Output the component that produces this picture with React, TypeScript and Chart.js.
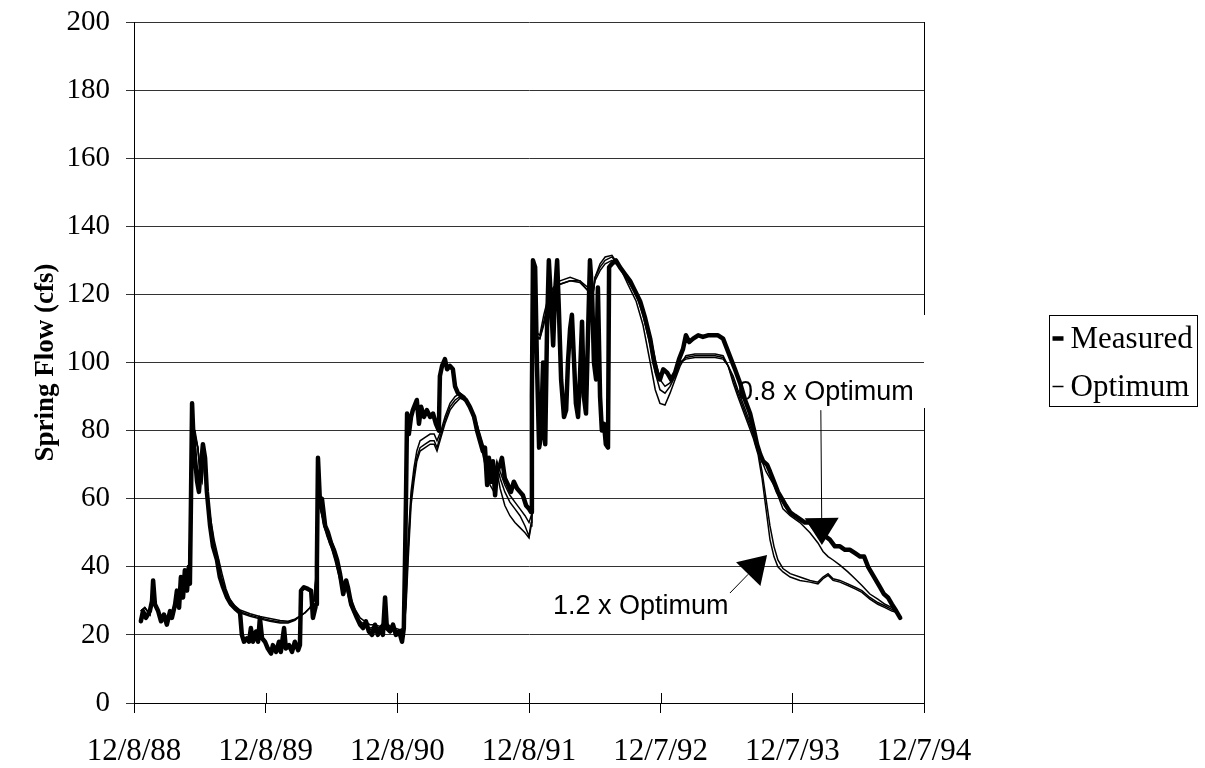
import { useEffect, useRef } from "react";
import { Chart, registerables } from "chart.js";

Chart.register(...registerables);

// Axis ticks: one per year, counted in days from 12/8/88
const tickDays = [0, 365, 730, 1095, 1460, 1825, 2190];
const tickLabels = ["12/8/88", "12/8/89", "12/8/90", "12/8/91", "12/7/92", "12/7/93", "12/7/94"];

// Measured spring flow (days since 12/8/88, cfs)
const measuredDays = [
  19, 25, 33, 44, 50, 53, 58, 67, 75, 83, 91, 100, 105, 114, 119, 125, 130, 136, 141, 147,
  152, 155, 158, 161, 164, 169, 175, 180, 186, 191, 197, 202, 211, 219, 230, 238, 247, 258, 269, 283,
  294, 299, 305, 313, 319, 324, 330, 338, 344, 349, 355, 363, 371, 380, 385, 394, 402, 407, 416, 421,
  430, 438, 446, 455, 460, 463, 471, 482, 491, 496, 505, 507, 510, 516, 521, 530, 538, 546, 554, 563,
  571, 580, 588, 593, 602, 610, 618, 627, 635, 643, 651, 660, 668, 676, 685, 690, 696, 701, 710, 718,
  726, 735, 743, 748, 751, 754, 757, 762, 768, 773, 784, 790, 796, 804, 812, 821, 829, 837, 845, 848,
  854, 862, 868, 876, 884, 890, 898, 909, 920, 931, 943, 951, 959, 967, 973, 979, 984, 990, 995, 1001,
  1006, 1015, 1020, 1028, 1037, 1045, 1053, 1062, 1070, 1078, 1087, 1095, 1101, 1103, 1106, 1112, 1117, 1123, 1128, 1134,
  1140, 1145, 1150, 1156, 1162, 1167, 1173, 1178, 1184, 1192, 1198, 1203, 1209, 1214, 1220, 1225, 1231, 1236, 1242, 1247,
  1253, 1259, 1264, 1270, 1275, 1281, 1286, 1292, 1297, 1303, 1308, 1314, 1317, 1325, 1336, 1347, 1361, 1375, 1389, 1403,
  1417, 1431, 1442, 1450, 1458, 1467, 1478, 1489, 1500, 1511, 1522, 1530, 1539, 1550, 1564, 1577, 1591, 1605, 1619, 1633,
  1644, 1655, 1666, 1680, 1694, 1708, 1719, 1727, 1736, 1744, 1755, 1763, 1774, 1785, 1796, 1807, 1819, 1832, 1846, 1860,
  1874, 1888, 1902, 1916, 1929, 1943, 1957, 1971, 1985, 1999, 2013, 2024, 2035, 2046, 2057, 2068, 2079, 2090, 2101, 2113,
  2124,
];
const measuredFlow = [
  24, 27, 25, 27, 30, 36, 29, 27, 24, 26, 23, 27, 25, 29, 33, 28, 37, 31, 39, 33,
  40, 35, 60, 88, 80, 72, 65, 62, 70, 76, 72, 62, 52, 46, 42, 37, 34, 31, 29, 27.5,
  26.5, 20, 18, 19, 18, 22, 18, 21, 18, 25, 19, 18, 16, 14.5, 17, 15, 18, 15, 22, 16,
  17, 15, 18, 15.5, 17, 33, 34, 33.5, 33, 25, 29, 40, 72, 58, 60, 52, 50, 47, 45, 42,
  38, 32, 36, 34, 29, 27, 25, 23, 22, 24, 21, 20, 23, 20, 22, 20, 31, 22, 21, 23,
  20, 21, 18, 22, 40, 60, 85, 79, 84, 86, 89, 82, 87, 84, 86, 84, 85, 82, 80, 96,
  99, 101, 98, 99, 98, 93, 91, 90, 89, 87, 84, 80, 77, 74, 75, 64, 72, 65, 71, 61,
  68, 70, 72, 66, 64, 62, 65, 63, 62, 61, 58, 57, 56, 90, 130, 128, 100, 75, 78, 100,
  76, 110, 130, 118, 105, 120, 130, 115, 95, 84, 86, 100, 110, 114, 100, 88, 84, 95, 112, 90,
  85, 110, 130, 120, 100, 95, 122, 90, 80, 82, 76, 75, 128, 129, 130, 128, 126, 124, 121, 118,
  113, 107, 100, 97, 95, 98, 97, 95, 97, 101, 104, 108, 106, 107, 108, 107.5, 108, 108, 108, 107,
  104, 101, 98, 94, 89, 85, 80, 76, 73, 71, 70, 68, 65, 62, 60, 58, 56, 55, 54, 53,
  53, 51, 50, 49, 48, 46, 46, 45, 45, 44, 43, 43, 40, 38, 36, 34, 32, 31, 29, 27,
  25,
];

// Simulated spring flow, shared time axis for the three model runs
const modelDays = [
  19, 30, 44, 53, 61, 72, 86, 100, 114, 128, 141, 152, 158, 161, 169, 177, 183, 189, 194, 202,
  211, 222, 233, 244, 255, 266, 280, 294, 322, 349, 377, 405, 427, 446, 460, 474, 488, 499, 507, 510,
  516, 524, 535, 546, 557, 571, 580, 588, 599, 613, 627, 640, 654, 668, 682, 696, 710, 724, 737, 748,
  754, 760, 768, 776, 784, 793, 807, 821, 832, 840, 851, 862, 876, 890, 904, 917, 931, 945, 959, 973,
  987, 998, 1006, 1015, 1028, 1042, 1056, 1070, 1084, 1095, 1101, 1103, 1106, 1114, 1125, 1136, 1148, 1162, 1181, 1209,
  1236, 1259, 1270, 1278, 1292, 1306, 1325, 1347, 1369, 1392, 1411, 1431, 1445, 1458, 1472, 1486, 1500, 1514, 1530, 1555,
  1583, 1611, 1633, 1647, 1661, 1674, 1688, 1702, 1716, 1730, 1741, 1752, 1763, 1774, 1785, 1799, 1819, 1846, 1874, 1896,
  1910, 1924, 1938, 1957, 1979, 1999, 2018, 2040, 2062, 2082, 2101, 2118,
];
const optimumFlow = [
  27, 28, 26, 33, 28, 25, 25, 26, 28, 32, 36, 38, 60, 80, 79, 75, 68, 66, 74, 62,
  53, 46, 41, 36, 32, 29.5, 28, 26.8, 25.8, 25, 24.3, 23.8, 23.8, 24.5, 25.5, 26.5, 28, 30, 40, 60,
  58, 54, 50, 47, 43, 37, 33, 35, 30, 26, 24, 23, 22, 22.5, 22, 24, 22, 21.5, 21, 22,
  30, 45, 60, 67, 72, 75, 76, 77, 77, 75, 79, 83, 87, 89, 90, 89, 87, 83, 78, 72,
  67, 65, 70, 66, 62, 59, 57, 55, 52, 49, 53, 80, 105, 108, 107, 112, 118, 121, 123, 124,
  123.5, 121, 118, 125, 128, 130, 131, 128, 124, 120, 114, 105, 97, 92, 91, 93, 96, 100, 101.5, 102,
  102, 102, 101.5, 99, 95, 91, 87, 83, 79, 74, 68, 60, 52, 46, 42, 39.5, 38, 37, 36, 35.5,
  37, 38, 36.5, 36, 35, 34, 33, 31, 29.5, 28.5, 27.5, 26.5,
];
const lowFactorFlow = [
  27, 28, 26, 33, 28, 25, 25, 26, 28, 32, 36, 38, 58, 78, 78, 75, 69, 67, 73, 63,
  55, 48, 43, 38, 33.5, 30.5, 28.5, 27.3, 26.2, 25.4, 24.8, 24.2, 24, 24.6, 25.5, 26.5, 28, 30, 39, 58,
  57, 54, 51, 48, 45, 39, 35, 36, 31.5, 27.5, 25, 24, 23, 23, 22.5, 24, 22.5, 22, 21.5, 22,
  28, 42, 58, 65, 71, 74, 75, 76, 76, 74, 78, 82, 86, 88, 89.5, 89, 87.5, 84, 79, 74,
  69, 67, 71, 68, 64, 61, 59, 57, 55, 53, 55, 80, 103, 107, 107, 111, 117, 121, 123, 124,
  124, 122, 119, 124, 127, 129, 130, 128, 125, 121, 116, 108, 101, 95, 93, 94, 97, 100, 101, 101.5,
  101.5, 101.5, 101, 99, 96, 92, 88, 84, 80, 75, 71, 68, 66, 64, 61, 57, 55, 53, 50, 47,
  44.5, 43, 42, 40.5, 38.5, 36.5, 34.5, 32, 30.5, 29, 28, 26.5,
];
const highFactorFlow = [
  27, 28, 26, 33, 28, 25, 25, 26, 28, 32, 36, 38, 61, 81, 80, 75, 67, 65, 74, 61,
  52, 45, 40, 35, 31, 29, 27.5, 26.5, 25.5, 24.7, 24, 23.5, 23.5, 24.3, 25.5, 26.5, 28, 30, 41, 61,
  58, 53, 49, 46, 42, 36, 32, 34, 29, 25.5, 23.5, 22.5, 21.5, 22, 21.5, 23.5, 21.5, 21, 20.5, 21.5,
  32, 48, 62, 69, 74, 77, 78, 79, 79, 77, 80, 84, 88, 90, 91, 90, 87, 82, 77, 70,
  64, 62, 68, 63, 58, 55, 53, 51.5, 50, 48.5, 52, 82, 107, 109, 108, 114, 119, 122, 124, 125,
  124, 121, 117, 125, 129, 131, 131.5, 128, 123, 118, 111, 100, 92, 88, 87.5, 91, 95, 99, 102, 102.5,
  102.5, 102.5, 102, 99, 94, 90, 86, 82, 78, 73, 66, 57, 48, 43, 40, 38.5, 37, 36, 35.5, 35,
  36.5, 37.5, 36, 35.5, 34.5, 33.5, 32.5, 30.5, 29, 28, 27, 26.5,
];

// Callout labels: text centre and arrow (start -> tip), in days / cfs
const callouts = [
  { text: "0.8 x Optimum", day: 1918, flow: 91.2, fromDay: 1904, fromFlow: 86, tipDay: 1907, tipFlow: 46.4 },
  { text: "1.2 x Optimum", day: 1405, flow: 28.4, fromDay: 1652, fromFlow: 32.3, tipDay: 1755, tipFlow: 43.5 },
];

const legendItems = [
  { label: "Measured", width: 4.5 },
  { label: "Optimum", width: 1.5 },
];

const SERIF = "'Liberation Serif', 'Times New Roman', serif";
const SANS = "'Liberation Sans', Arial, sans-serif";

const toPoints = (xs: number[], ys: number[]) => xs.map((x, i) => ({ x, y: ys[i] }));

const decorations = {
  id: "decorations",
  beforeDatasetsDraw(chart: any) {
    const { ctx, scales } = chart;
    const xs = scales.x;
    const ys = scales.y;
    ctx.save();
    ctx.fillStyle = "#000";
    ctx.font = `27px ${SANS}`;
    ctx.textAlign = "center";
    ctx.textBaseline = "middle";
    for (const c of callouts) {
      ctx.fillText(c.text, xs.getPixelForValue(c.day), ys.getPixelForValue(c.flow));
    }
    ctx.restore();
  },
  afterDraw(chart: any) {
    const { ctx, scales, chartArea } = chart;
    const xs = scales.x;
    const ys = scales.y;
    ctx.save();
    // tick marks crossing into the plot
    ctx.strokeStyle = "#000";
    ctx.lineWidth = 1;
    ctx.beginPath();
    for (const d of tickDays) {
      const px = Math.round(xs.getPixelForValue(d)) + 0.5;
      ctx.moveTo(px, chartArea.bottom - 10);
      ctx.lineTo(px, chartArea.bottom);
    }
    // right border of the plot, interrupted by the upper callout
    const r = Math.round(chartArea.right) + 0.5;
    ctx.moveTo(r, chartArea.top);
    ctx.lineTo(r, 315);
    ctx.moveTo(r, 408);
    ctx.lineTo(r, chartArea.bottom);
    ctx.stroke();

    // callout arrows
    for (const c of callouts) {
      const x0 = xs.getPixelForValue(c.fromDay);
      const y0 = ys.getPixelForValue(c.fromFlow);
      const x1 = xs.getPixelForValue(c.tipDay);
      const y1 = ys.getPixelForValue(c.tipFlow);
      const ang = Math.atan2(y1 - y0, x1 - x0);
      const len = 27;
      const half = 17;
      const bx = x1 - Math.cos(ang) * len;
      const by = y1 - Math.sin(ang) * len;
      ctx.beginPath();
      ctx.moveTo(x0, y0);
      ctx.lineTo(bx, by);
      ctx.stroke();
      ctx.beginPath();
      ctx.moveTo(x1, y1);
      ctx.lineTo(bx - Math.sin(ang) * half, by + Math.cos(ang) * half);
      ctx.lineTo(bx + Math.sin(ang) * half, by - Math.cos(ang) * half);
      ctx.closePath();
      ctx.fillStyle = "#000";
      ctx.fill();
    }

    // legend box
    const lx = 1049.5;
    const ly = 315.5;
    const lw = 148;
    const lh = 91;
    ctx.fillStyle = "#fff";
    ctx.fillRect(lx, ly, lw, lh);
    ctx.strokeStyle = "#000";
    ctx.lineWidth = 1;
    ctx.strokeRect(lx, ly, lw, lh);
    ctx.font = `31px ${SERIF}`;
    ctx.textAlign = "left";
    ctx.textBaseline = "middle";
    ctx.fillStyle = "#000";
    legendItems.forEach((item, i) => {
      const cy = ly + 23 + i * 48;
      ctx.beginPath();
      ctx.lineWidth = item.width;
      ctx.moveTo(lx + 3, cy);
      ctx.lineTo(lx + 14, cy);
      ctx.stroke();
      ctx.fillText(item.label, lx + 21, cy + 1);
    });
    ctx.restore();
  },
};

export default function App() {
  const canvasRef = useRef<HTMLCanvasElement | null>(null);

  useEffect(() => {
    const canvas = canvasRef.current;
    if (!canvas) return;
    const thin = { borderColor: "#000", borderWidth: 1.5, pointRadius: 0, fill: false, tension: 0 };
    const chart = new Chart(canvas, {
      type: "line",
      data: {
        datasets: [
          { label: "Optimum", data: toPoints(modelDays, optimumFlow), ...thin },
          { label: "0.8 x Optimum", data: toPoints(modelDays, lowFactorFlow), ...thin },
          { label: "1.2 x Optimum", data: toPoints(modelDays, highFactorFlow), ...thin },
          {
            label: "Measured",
            data: toPoints(measuredDays, measuredFlow),
            borderColor: "#000",
            borderWidth: 4.5,
            pointRadius: 0,
            fill: false,
            tension: 0,
            borderJoinStyle: "round",
            borderCapStyle: "round",
          },
        ],
      },
      options: {
        animation: false,
        responsive: false,
        devicePixelRatio: 1,
        parsing: false,
        layout: { padding: { left: 0, top: 22, right: 281, bottom: 0 } },
        plugins: { legend: { display: false }, tooltip: { enabled: false } },
        scales: {
          x: {
            type: "linear",
            min: 0,
            max: 2190,
            afterBuildTicks: (scale: any) => {
              scale.ticks = tickDays.map((v) => ({ value: v }));
            },
            afterFit: (scale: any) => {
              scale.height = 65;
            },
            ticks: {
              autoSkip: false,
              maxRotation: 0,
              padding: 20,
              color: "#000",
              font: { family: SERIF, size: 31 },
              callback: (_v: any, i: number) => tickLabels[i],
            },
            grid: { drawOnChartArea: false, drawTicks: true, tickLength: 10, color: "#000" },
            border: { display: true, color: "#000", width: 1 },
          },
          y: {
            min: 0,
            max: 200,
            afterFit: (scale: any) => {
              scale.width = 134;
            },
            ticks: {
              stepSize: 20,
              padding: 16,
              color: "#000",
              font: { family: SERIF, size: 29, lineHeight: 0.3 },
            },
            grid: { color: "#333", lineWidth: 1, tickLength: 8 },
            border: { display: true, color: "#000", width: 1 },
            title: {
              display: true,
              text: "Spring Flow (cfs)",
              color: "#000",
              font: { family: SERIF, size: 27, weight: "bold" },
              padding: { top: 30, bottom: 0 },
            },
          },
        },
      },
      plugins: [decorations],
    });
    return () => chart.destroy();
  }, []);

  return (
    <div style={{ position: "fixed", left: 0, top: 0, width: 1205, height: 768, background: "#fff" }}>
      <canvas ref={canvasRef} width={1205} height={768} style={{ display: "block" }} />
    </div>
  );
}
